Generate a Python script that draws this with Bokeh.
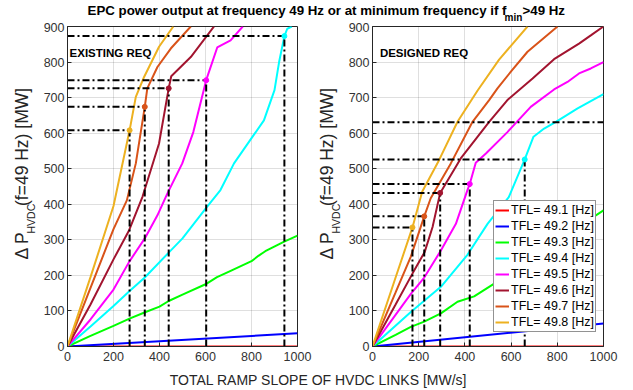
from math import pi
from bokeh.plotting import figure
from bokeh.layouts import column, row
from bokeh.models import Range1d, Label, Legend, LegendItem, FixedTicker
from bokeh.embed import file_html
from bokeh.resources import INLINE

FONT = "Liberation Sans"
AX = "#262626"

# ---------------- data ----------------
TFL_LABELS = ["TFL= 49.1 [Hz]", "TFL= 49.2 [Hz]", "TFL= 49.3 [Hz]", "TFL= 49.4 [Hz]",
              "TFL= 49.5 [Hz]", "TFL= 49.6 [Hz]", "TFL= 49.7 [Hz]", "TFL= 49.8 [Hz]"]
TFL_COLORS = ["#FF0000", "#0000FF", "#00FF00", "#00FFFF",
              "#FF00FF", "#A2142F", "#D95319", "#EDB120"]

X_TICKS = [0, 200, 400, 600, 800, 1000]
Y_TICKS = [0, 100, 200, 300, 400, 500, 600, 700, 800, 900]
X_MAX = 1000
Y_MAX = 900

# Existing requirement (left panel)
ex_491_x = [0, 1000]
ex_491_y = [0, 0]
ex_492_x = [0, 1000]
ex_492_y = [0, 37]
ex_493_x = [0, 100, 200, 272, 340, 400, 440, 500, 600, 650, 700, 800, 830, 860, 940, 1000]
ex_493_y = [0, 30, 58, 79, 97, 112, 128, 146, 175, 195, 210, 240, 255, 268, 294, 312]
ex_494_x = [0, 100, 200, 270, 336, 440, 500, 603, 665, 724, 810, 854, 900, 920, 943, 955, 975]
ex_494_y = [0, 56, 114, 156, 194, 264, 304, 390, 440, 515, 595, 636, 721, 800, 873, 893, 900]
ex_495_x = [0, 100, 200, 268, 336, 391, 434, 499, 547, 603, 651, 709, 762]
ex_495_y = [0, 76, 160, 238, 304, 369, 430, 515, 603, 749, 841, 861, 900]
ex_496_x = [0, 100, 200, 268, 326, 398, 440, 451, 536, 637]
ex_496_y = [0, 118, 245, 327, 421, 571, 726, 760, 814, 900]
ex_497_x = [0, 100, 200, 258, 297, 336, 347, 391, 449, 536]
ex_497_y = [0, 165, 330, 411, 515, 674, 726, 786, 838, 900]
ex_498_x = [0, 100, 200, 270, 297, 333, 398, 460]
ex_498_y = [0, 195, 395, 608, 702, 758, 843, 900]
ex_mark_x = [270, 336, 440, 603, 943]
ex_mark_y = [608, 674, 726, 749, 873]
ex_mark_idx = [7, 6, 5, 4, 3]

# Designed requirement (right panel)
de_491_x = [0, 1000]
de_491_y = [0, 0]
de_492_x = [0, 1000]
de_492_y = [0, 65]
de_493_x = [0, 100, 166, 224, 296, 368, 440, 527, 600, 700, 800, 900, 967, 1000]
de_493_y = [0, 33, 55, 70, 93, 126, 141, 177, 204, 247, 290, 334, 369, 383]
de_494_x = [0, 166, 296, 411, 498, 590, 659, 697, 743, 794, 888, 1000]
de_494_y = [0, 97, 168, 258, 345, 420, 526, 590, 613, 632, 670, 710]
de_495_x = [0, 166, 224, 296, 361, 411, 421, 447, 491, 584, 685, 786, 844, 894, 945, 1000]
de_495_y = [0, 148, 194, 270, 345, 440, 457, 517, 543, 603, 674, 723, 744, 768, 782, 800]
de_496_x = [0, 100, 173, 226, 260, 293, 382, 505, 584, 693, 786, 894, 945, 1000]
de_496_y = [0, 118, 205, 266, 336, 432, 529, 632, 693, 754, 808, 852, 875, 900]
de_497_x = [0, 100, 166, 224, 252, 339, 433, 505, 541, 599, 671, 801]
de_497_y = [0, 152, 253, 366, 417, 515, 632, 693, 726, 773, 829, 900]
de_498_x = [0, 100, 173, 215, 288, 368, 455, 548, 671]
de_498_y = [0, 194, 335, 435, 524, 632, 720, 807, 900]
de_mark_x = [173, 224, 293, 421, 659]
de_mark_y = [335, 366, 432, 457, 526]
de_mark_idx = [7, 6, 5, 4, 3]
de_target_y = 631

EX_SERIES = [(ex_491_x, ex_491_y), (ex_492_x, ex_492_y), (ex_493_x, ex_493_y), (ex_494_x, ex_494_y),
             (ex_495_x, ex_495_y), (ex_496_x, ex_496_y), (ex_497_x, ex_497_y), (ex_498_x, ex_498_y)]
DE_SERIES = [(de_491_x, de_491_y), (de_492_x, de_492_y), (de_493_x, de_493_y), (de_494_x, de_494_y),
             (de_495_x, de_495_y), (de_496_x, de_496_y), (de_497_x, de_497_y), (de_498_x, de_498_y)]

TITLE_MAIN = "EPC power output at frequency 49 Hz or at minimum frequency if f"
TITLE_SUB = "min"
TITLE_END = ">49 Hz"
XLABEL = "TOTAL RAMP SLOPE OF HVDC LINKS [MW/s]"
YLABEL_A = "\u0394 P"
YLABEL_SUB = "HVDC"
YLABEL_B = "(f=49 Hz) [MW]"

# ---------------- layout geometry (pixels) ----------------
HEAD_H = 22
FOOT_H = 22
FIG_H = 346
BORDER_TOP = 4
BORDER_BOTTOM = 22
FRAME_H = FIG_H - BORDER_TOP - BORDER_BOTTOM

AW = {' ': 278, '(': 333, ')': 333, '=': 584, '4': 556, '9': 556, 'H': 722, 'z': 500,
      '[': 278, ']': 278, 'M': 833, 'W': 944, 'f': 278, '\u0394': 668, 'P': 667,
      'V': 667, 'D': 722, 'C': 722}


def tw(s, size):
    return sum(AW.get(c, 556) for c in s) / 1000.0 * size


def make_panel(width, bl, br, series, mk_x, mk_y, mk_idx, tag, tag_x):
    p = figure(width=width, height=FIG_H, x_range=Range1d(0, X_MAX), y_range=Range1d(0, Y_MAX),
               output_backend="svg", toolbar_location=None,
               min_border_left=bl, min_border_right=br,
               min_border_top=BORDER_TOP, min_border_bottom=BORDER_BOTTOM)
    p.xaxis.ticker = FixedTicker(ticks=X_TICKS)
    p.yaxis.ticker = FixedTicker(ticks=Y_TICKS)
    p.xgrid.ticker = FixedTicker(ticks=X_TICKS)
    p.ygrid.ticker = FixedTicker(ticks=Y_TICKS)
    p.grid.grid_line_color = AX
    p.grid.grid_line_alpha = 0.15
    p.axis.major_tick_in = 4
    p.axis.major_tick_out = 0
    p.axis.minor_tick_line_color = None
    p.axis.axis_line_color = AX
    p.axis.major_tick_line_color = AX
    p.axis.major_label_text_font = FONT
    p.axis.major_label_text_font_size = "12.5px"
    p.axis.major_label_text_color = "#333333"
    p.xaxis.major_label_standoff = 5
    p.yaxis.major_label_standoff = 3
    p.outline_line_color = AX

    rends = []
    for (xs, ys), c in zip(series, TFL_COLORS):
        rends.append(p.line(xs, ys, line_color=c, line_width=2))

    hx = [[0, x] for x in mk_x] + [[x, x] for x in mk_x]
    hy = [[y, y] for y in mk_y] + [[0, y] for y in mk_y]
    p.multi_line(hx, hy, line_color="black", line_width=2, line_dash="7 3 2 3")
    p.scatter(mk_x, mk_y, size=5, color=[TFL_COLORS[i] for i in mk_idx])

    # panel tag, caps centred ~26 px below the frame top
    p.add_layout(Label(x=tag_x, y=(FRAME_H - 26) * Y_MAX / FRAME_H,
                       text=tag, text_font=FONT, text_font_style="bold",
                       text_font_size="11.5px", text_color="black",
                       text_align="left", text_baseline="middle"))
    return p, rends


def strip(width, height):
    f = figure(width=width, height=height, x_range=Range1d(0, width), y_range=Range1d(0, height),
               output_backend="svg", toolbar_location=None, x_axis_type=None, y_axis_type=None,
               min_border=0, min_border_left=0, min_border_right=0, min_border_top=0,
               min_border_bottom=0)
    f.outline_line_color = None
    return f


def ylabel_strip(width, x_main, x_sub):
    f = strip(width, FIG_H)
    s_main, s_sub = 17.5, 10.5
    w1 = tw(YLABEL_A, s_main)
    ws = tw(YLABEL_SUB, s_sub)
    w2 = tw(YLABEL_B, s_main)
    center = FIG_H - (BORDER_TOP + FRAME_H / 2.0)   # y (upwards) of frame centre
    start = center - (w1 + ws + w2) / 2.0
    for txt, size, xx, off in ((YLABEL_A, s_main, x_main, 0), (YLABEL_SUB, s_sub, x_sub, w1),
                               (YLABEL_B, s_main, x_main, w1 + ws)):
        f.add_layout(Label(x=xx, y=start + off, text=txt, angle=pi / 2,
                           text_font=FONT, text_font_size="%.1fpx" % size, text_color=AX,
                           text_align="left", text_baseline="middle"))
    return f


p1, r1 = make_panel(276, 31, 15, EX_SERIES, ex_mark_x, ex_mark_y, ex_mark_idx, "EXISTING REQ", 9)
p2, r2 = make_panel(291, 30, 30, DE_SERIES, de_mark_x, de_mark_y, de_mark_idx, "DESIGNED REQ", 32)
p2.line([0, X_MAX], [de_target_y, de_target_y], line_color="black", line_width=2, line_dash="7 3 2 3")

legend = Legend(items=[LegendItem(label=l, renderers=[r]) for l, r in zip(TFL_LABELS, r2)],
                location=(121, 14), label_text_font=FONT, label_text_font_size="12.5px",
                label_text_color="black", glyph_width=14, glyph_height=16, label_height=16,
                label_standoff=2, padding=1, spacing=0, margin=0,
                border_line_color=AX, border_line_width=1, background_fill_alpha=1)
p2.add_layout(legend)

yl1 = ylabel_strip(36, 21, 30.5)
yl2 = ylabel_strip(30, 14, 23.5)

header = strip(633, HEAD_H)
header.add_layout(Label(x=506, y=HEAD_H - 10, text=TITLE_MAIN, text_font=FONT, text_font_style="bold",
                        text_font_size="13.3px", text_color="black", text_align="right",
                        text_baseline="middle"))
header.add_layout(Label(x=504, y=HEAD_H - 17, text=TITLE_SUB, text_font=FONT, text_font_style="bold",
                        text_font_size="10px", text_color="black", text_align="left",
                        text_baseline="middle"))
header.add_layout(Label(x=522, y=HEAD_H - 10, text=TITLE_END, text_font=FONT, text_font_style="bold",
                        text_font_size="13.3px", text_color="black", text_align="left",
                        text_baseline="middle"))

footer = strip(633, FOOT_H)
footer.add_layout(Label(x=318, y=FOOT_H - 11, text=XLABEL, text_font=FONT, text_font_size="14px",
                        text_color=AX, text_align="center", text_baseline="middle"))

layout = column(header, row(yl1, p1, yl2, p2), footer)
open("out.html", "w").write(file_html(layout, INLINE))
